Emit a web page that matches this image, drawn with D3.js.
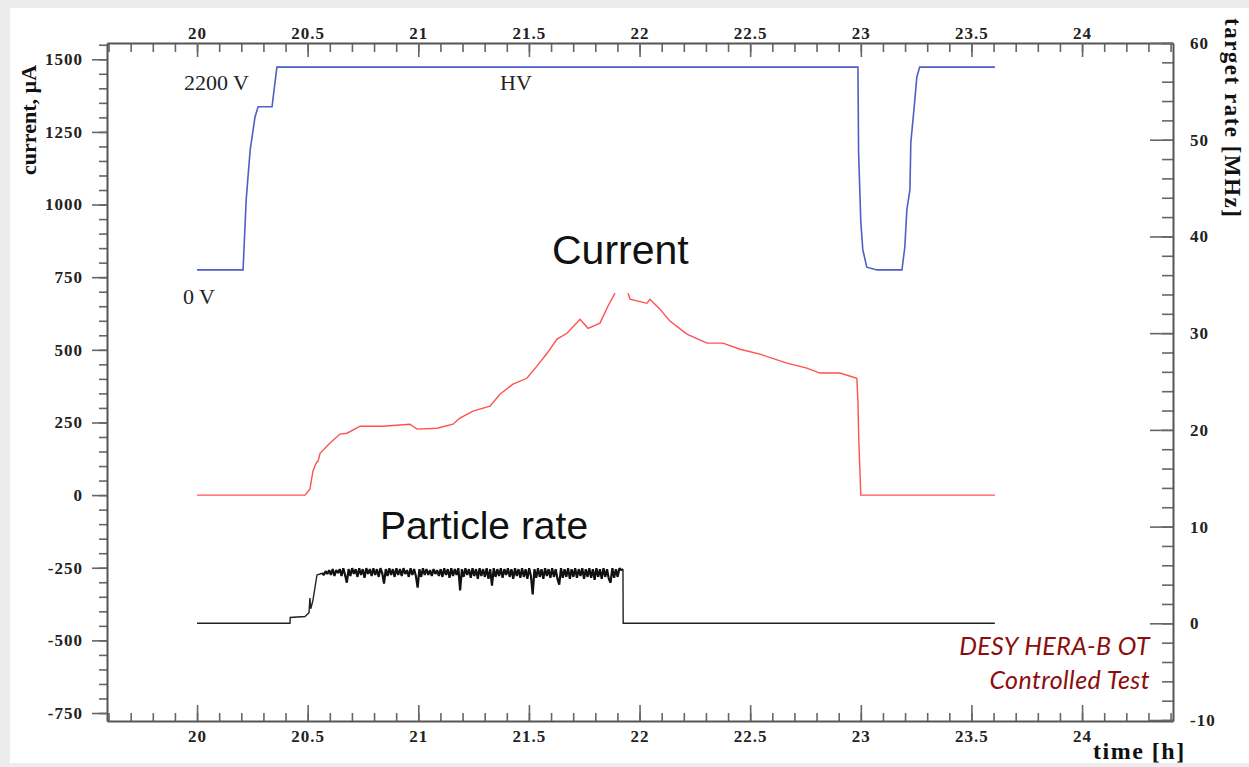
<!DOCTYPE html>
<html>
<head>
<meta charset="utf-8">
<script src="https://cdn.jsdelivr.net/npm/d3@7"></script>
<style>
  body { margin: 0; background: #fff; }
  .tick text { font-family: "Liberation Serif", serif; font-weight: bold; font-size: 17px; letter-spacing: 1px; fill: #222; }
  .tick line { stroke: #666; stroke-width: 1.6; }
  .domain { stroke: #555; stroke-width: 2; }
  .titre { font-family: "Liberation Serif", serif; font-weight: bold; fill: #111; }
  .note { font-family: "Liberation Serif", serif; font-size: 22px; fill: #222; }
  .gros { font-family: "Liberation Sans", Arial, sans-serif; fill: #111; }
  .desy { font-family: "Lato", "Open Sans", sans-serif; font-style: italic; font-size: 25px; letter-spacing: 0.4px; fill: #8b0d0d; }
</style>
</head>
<body>
<script>
// graduations
var xTicks = [20, 20.5, 21, 21.5, 22, 22.5, 23, 23.5, 24];
var yLeftTicks = [-750, -500, -250, 0, 250, 500, 750, 1000, 1250, 1500];
var yRightTicks = [-10, 0, 10, 20, 30, 40, 50, 60];

// haute tension (V)
var hvTime = [20.00, 20.208, 20.222, 20.24, 20.262, 20.276, 20.339, 20.348, 20.361, 22.987, 22.99, 23.0, 23.009, 23.027, 23.073, 23.186, 23.199, 23.208, 23.222, 23.226, 23.244, 23.253, 23.266, 23.606];
var hvVolt = [0, 0, 760, 1300, 1660, 1770, 1770, 1950, 2200, 2200, 1270, 520, 220, 30, 0, 0, 250, 650, 870, 1380, 1840, 2090, 2200, 2200];

// courant (uA), null = trou dans la courbe
var curTime = [20.00, 20.488, 20.51, 20.524, 20.538, 20.547, 20.556, 20.601, 20.646, 20.678, 20.737, 20.84, 20.962, 20.994, 21.085, 21.157, 21.188, 21.247, 21.324, 21.369, 21.428, 21.491, 21.536, 21.582, 21.627, 21.672, 21.731, 21.767, 21.821, 21.857, 21.889, 21.92, 21.948, 21.957, 22.033, 22.047, 22.092, 22.137, 22.214, 22.305, 22.377, 22.454, 22.544, 22.666, 22.756, 22.815, 22.906, 22.982, 22.987, 22.991, 23.0, 23.606];
var curVal = [0, 0, 20, 83, 110, 117, 144, 179, 210, 213, 237, 237, 244, 227, 230, 244, 265, 289, 306, 347, 382, 402, 444, 488, 537, 557, 605, 574, 592, 650, 695, null, 695, 674, 660, 674, 640, 599, 554, 523, 523, 502, 485, 454, 437, 420, 420, 402, 323, 186, 0, 0];

// taux de particules (MHz)
var rateHeadTime = [20.00, 20.42, 20.421, 20.488, 20.506, 20.51, 20.514, 20.524, 20.542, 20.556, 20.565];
var rateHeadVal = [0, 0, 0.6, 0.7, 1.1, 2.6, 1.5, 2.4, 5.0, 5.1, 5.2];
var plateauStart = 20.565, plateauStep = 0.008;
var ratePlateau = [
  5.2, 5.0, 5.4, 5.1, 5.5, 5.0, 5.6, 4.9, 5.5, 5.2,
  5.6, 4.9, 5.7, 5.0, 4.2, 5.6, 4.9, 5.7, 5.1, 5.6,
  4.8, 5.7, 5.0, 5.6, 4.7, 5.7, 5.1, 5.6, 4.9, 5.7,
  5.0, 5.6, 4.8, 5.7, 5.2, 4.1, 5.6, 4.9, 5.7, 5.0,
  5.6, 4.8, 5.7, 5.0, 5.6, 4.9, 5.7, 5.1, 5.5, 4.8,
  5.7, 5.0, 5.6, 4.9, 3.7, 5.6, 4.8, 5.7, 5.0, 5.6,
  5.0, 5.5, 4.9, 5.6, 5.1, 5.5, 4.9, 5.6, 4.8, 5.7,
  5.0, 5.6, 4.7, 5.7, 4.9, 5.6, 5.0, 5.7, 3.4, 5.6,
  4.8, 5.7, 5.0, 5.6, 4.7, 5.7, 4.9, 5.6, 4.6, 5.7,
  4.9, 5.6, 4.8, 5.7, 4.6, 5.6, 3.9, 5.7, 4.8, 5.6,
  4.9, 5.7, 4.7, 5.6, 5.0, 5.7, 4.8, 5.6, 4.6, 5.7,
  4.9, 5.6, 4.7, 5.7, 4.8, 5.6, 4.6, 5.7, 4.9, 3.0,
  5.6, 4.7, 5.7, 4.8, 5.6, 4.6, 5.7, 4.9, 5.6, 4.7,
  5.7, 4.8, 5.6, 4.6, 4.0, 5.7, 4.7, 5.6, 4.8, 5.7,
  4.6, 5.6, 4.8, 5.7, 4.7, 5.6, 4.9, 5.7, 4.6, 5.6,
  4.8, 5.7, 4.7, 5.6, 4.5, 5.7, 4.8, 5.6, 4.6, 5.7,
  4.8, 5.6, 4.6, 4.2, 5.7, 4.7, 5.6, 4.8, 5.7, 5.5,
  5.6
];
var rateTailTime = [21.925, 21.926, 23.606];
var rateTailVal = [5.6, 0, 0];

var width = 1249, height = 767;
var frame = { left: 107, right: 1173, top: 43, bottom: 721 };

var svg = d3.select("body").append("svg")
    .attr("width", width)
    .attr("height", height);

// fond et bordure grise
svg.append("rect").attr("x", 0).attr("y", 0).attr("width", width).attr("height", height).attr("fill", "#ececec");
svg.append("rect").attr("x", 10).attr("y", 8).attr("width", width - 10).attr("height", height - 12).attr("fill", "#fff");

var x = d3.scaleLinear().domain([19.593, 24.411]).range([frame.left, frame.right]);
var yLeft = d3.scaleLinear().domain([-777.5, 1556]).range([frame.bottom, frame.top]);
var yRight = d3.scaleLinear().domain([-10.1, 60]).range([frame.bottom, frame.top]);
var yHV = d3.scaleLinear().domain([0, 2200]).range([yLeft(775), yLeft(1473)]);

var fmt = function(d) { return String(d); };
var xMinor = d3.range(196, 245).map(function(d) { return d / 10; });
var yLeftMinor = d3.range(-15, 32).map(function(d) { return d * 50; });
var yRightMinor = d3.range(-5, 31).map(function(d) { return d * 2; });

// axes mineurs
svg.append("g").attr("transform", "translate(0," + frame.bottom + ")")
    .call(d3.axisBottom(x).tickValues(xMinor).tickSizeInner(-8).tickSizeOuter(0).tickFormat(""))
    .select(".domain").remove();
svg.append("g").attr("transform", "translate(0," + frame.top + ")")
    .call(d3.axisTop(x).tickValues(xMinor).tickSizeInner(-9).tickSizeOuter(0).tickFormat(""))
    .select(".domain").remove();
svg.append("g").attr("transform", "translate(" + frame.left + ",0)")
    .call(d3.axisLeft(yLeft).tickValues(yLeftMinor).tickSizeInner(8).tickSizeOuter(0).tickFormat(""))
    .select(".domain").remove();
svg.append("g").attr("transform", "translate(" + frame.right + ",0)")
    .call(d3.axisRight(yRight).tickValues(yRightMinor).tickSizeInner(-11).tickSizeOuter(0).tickFormat(""))
    .select(".domain").remove();

// axes majeurs
svg.append("g").attr("transform", "translate(0," + frame.bottom + ")")
    .call(d3.axisBottom(x).tickValues(xTicks).tickSizeInner(-16).tickSizeOuter(0).tickPadding(9).tickFormat(fmt));
svg.append("g").attr("transform", "translate(0," + frame.top + ")")
    .call(d3.axisTop(x).tickValues(xTicks).tickSizeInner(-14).tickSizeOuter(0).tickPadding(4).tickFormat(fmt));
svg.append("g").attr("transform", "translate(" + frame.left + ",0)")
    .call(d3.axisLeft(yLeft).tickValues(yLeftTicks).tickSizeInner(15).tickSizeOuter(0).tickPadding(9).tickFormat(fmt));
svg.append("g").attr("transform", "translate(" + frame.right + ",0)")
    .call(d3.axisRight(yRight).tickValues(yRightTicks).tickSizeInner(-23).tickSizeOuter(0).tickPadding(17).tickFormat(fmt));

// courbes
var hvData = hvTime.map(function(t, i) { return [t, hvVolt[i]]; });
var curData = curTime.map(function(t, i) { return [t, curVal[i]]; });
var headData = rateHeadTime.map(function(t, i) { return [t, rateHeadVal[i]]; });
var plateauData = ratePlateau.map(function(v, i) { return [plateauStart + i * plateauStep, v]; });
var tailData = rateTailTime.map(function(t, i) { return [t, rateTailVal[i]]; });

var lineRate = d3.line().x(function(d) { return x(d[0]); }).y(function(d) { return yRight(d[1]); });

svg.append("path").datum(hvData)
    .attr("fill", "none").attr("stroke", "#4f5fc7").attr("stroke-width", 1.6)
    .attr("d", d3.line().x(function(d) { return x(d[0]); }).y(function(d) { return yHV(d[1]); }));

svg.append("path").datum(curData)
    .attr("fill", "none").attr("stroke", "#ff5050").attr("stroke-width", 1.4)
    .attr("d", d3.line().defined(function(d) { return d[1] !== null; })
        .x(function(d) { return x(d[0]); }).y(function(d) { return yLeft(d[1]); }));

svg.append("path").datum(headData)
    .attr("fill", "none").attr("stroke", "#222").attr("stroke-width", 1.4)
    .attr("d", lineRate);
svg.append("path").datum(tailData)
    .attr("fill", "none").attr("stroke", "#222").attr("stroke-width", 1.4)
    .attr("d", lineRate);
svg.append("path").datum(plateauData)
    .attr("fill", "none").attr("stroke", "#111").attr("stroke-width", 2.2)
    .attr("stroke-linejoin", "bevel")
    .attr("d", lineRate);

// titres des axes
svg.append("text").attr("class", "titre").attr("font-size", 22)
    .attr("transform", "translate(36,175) rotate(-90)")
    .text("current, \u00b5A");
svg.append("text").attr("class", "titre").attr("font-size", 23).attr("letter-spacing", 1.5)
    .attr("transform", "translate(1225,18) rotate(90)")
    .text("target rate [MHz]");
svg.append("text").attr("class", "titre").attr("font-size", 24).attr("letter-spacing", 1.5)
    .attr("x", 1093).attr("y", 759)
    .text("time [h]");

// annotations
svg.append("text").attr("class", "note").attr("x", 184).attr("y", 90).text("2200 V");
svg.append("text").attr("class", "note").attr("x", 500).attr("y", 90).text("HV");
svg.append("text").attr("class", "note").attr("x", 183).attr("y", 304).text("0 V");
svg.append("text").attr("class", "gros").attr("font-size", 41)
    .attr("x", 552).attr("y", 264).text("Current");
svg.append("text").attr("class", "gros").attr("font-size", 39)
    .attr("x", 380).attr("y", 539).text("Particle rate");
svg.append("text").attr("class", "desy").attr("x", 1150).attr("y", 655).attr("text-anchor", "end").text("DESY HERA-B OT");
svg.append("text").attr("class", "desy").attr("x", 1150).attr("y", 689).attr("text-anchor", "end").text("Controlled Test");
</script>
</body>
</html>
